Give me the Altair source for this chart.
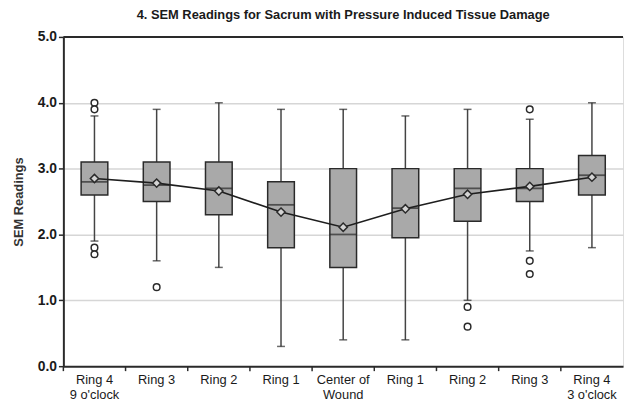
import altair as alt
import pandas as pd

labels = ["Ring 4/9 o'clock", "Ring 3", "Ring 2", "Ring 1", "Center of/Wound",
          "Ring 1", "Ring 2", "Ring 3", "Ring 4/3 o'clock"]
q1 = [2.6, 2.5, 2.3, 1.8, 1.5, 1.95, 2.2, 2.5, 2.6]
q3 = [3.1, 3.1, 3.1, 2.8, 3.0, 3.0, 3.0, 3.0, 3.2]
median = [2.8, 2.75, 2.7, 2.45, 2.0, 2.4, 2.7, 2.7, 2.9]
mean = [2.85, 2.78, 2.66, 2.34, 2.11, 2.39, 2.61, 2.73, 2.87]
whisker_low = [1.9, 1.6, 1.5, 0.3, 0.4, 0.4, 1.0, 1.75, 1.8]
whisker_high = [3.8, 3.9, 4.0, 3.9, 3.9, 3.8, 3.9, 3.75, 4.0]
outlier_pos = [0, 0, 0, 0, 1, 6, 6, 7, 7, 7]
outlier_val = [4.0, 3.9, 1.8, 1.7, 1.2, 0.9, 0.6, 3.9, 1.6, 1.4]

pos = list(range(len(labels)))
df = pd.DataFrame({"pos": pos, "q1": q1, "q3": q3, "median": median, "mean": mean,
                   "lo": whisker_low, "hi": whisker_high})
out = pd.DataFrame({"pos": outlier_pos, "val": outlier_val})

W, H = 566, 333
DARK = "#2a2a2a"

joined = "|".join(labels)
label_expr = 'split(split("' + joined + '", "|")[datum.value], "/")'

x = alt.X("pos:O", title=None,
          scale=alt.Scale(paddingInner=0, paddingOuter=0),
          axis=alt.Axis(labelAngle=0, ticks=False, labelExpr=label_expr,
                        labelFont="Liberation Sans", labelFontSize=13, labelColor="#1a1a1a",
                        labelLineHeight=15, labelPadding=8, domainColor=DARK, domainWidth=2,
                        grid=False))

yscale = alt.Scale(domain=[0, 5], nice=False)
y_axis = alt.Axis(values=[i * 0.5 for i in range(11)],
                  labelExpr="datum.value % 1 == 0 ? format(datum.value, '.1f') : ''",
                  labelFont="Liberation Sans", labelFontSize=14, labelFontWeight="bold",
                  labelColor="#1a1a1a", tickSize=5, tickColor=DARK, tickWidth=1.5,
                  domainColor=DARK, domainWidth=2,
                  grid=True, gridColor="#d6d6d6", gridWidth=1.5,
                  gridOpacity={"condition": {"test": "datum.value % 1 == 0 && datum.value > 0 && datum.value < 5", "value": 1}, "value": 0},
                  title="SEM Readings", titleFont="Liberation Sans", titleFontSize=13,
                  titleFontWeight="bold", titleColor="#333333", titlePadding=12)

base = alt.Chart(df)

xticks = base.mark_rule(color=DARK, strokeWidth=1.5).encode(
    x=alt.X("pos:O", bandPosition=0), y=alt.value(H), y2=alt.value(H + 5))
whisk_lo = base.mark_rule(color="#444444", strokeWidth=1.5).encode(
    x=x, y=alt.Y("lo:Q", scale=yscale, axis=y_axis), y2="q1:Q")
whisk_hi = base.mark_rule(color="#444444", strokeWidth=1.5).encode(
    x=x, y=alt.Y("q3:Q"), y2="hi:Q")
cap_lo = base.mark_tick(color=DARK, thickness=1.5, size=8).encode(x=x, y="lo:Q")
cap_hi = base.mark_tick(color=DARK, thickness=1.5, size=8).encode(x=x, y="hi:Q")
box = base.mark_bar(size=27, color="#a9a9a9", stroke=DARK, strokeWidth=1.5).encode(
    x=x, y="q1:Q", y2="q3:Q")
med = base.mark_tick(color=DARK, thickness=1.8, size=27).encode(x=x, y="median:Q")
mean_line = base.mark_line(color="#1e1e1e", strokeWidth=1.6).encode(x=x, y="mean:Q")
mean_pts = base.mark_point(shape="diamond", size=70, filled=True, fill="#d4d4d4",
                           stroke=DARK, strokeWidth=1.5, opacity=1).encode(x=x, y="mean:Q")
outs = alt.Chart(out).mark_point(shape="circle", size=45, fill="white", filled=True,
                                 stroke=DARK, strokeWidth=1.5, opacity=1).encode(
    x=x, y="val:Q")
top = alt.Chart(pd.DataFrame({"v": [5]})).mark_rule(color=DARK, strokeWidth=2).encode(y="v:Q")

chart = alt.layer(top, whisk_lo, whisk_hi, cap_lo, cap_hi, box, med, mean_line, mean_pts, outs, xticks).properties(
    width=W, height=H,
    title=alt.TitleParams("4. SEM Readings for Sacrum with Pressure Induced Tissue Damage",
                          font="Liberation Sans", fontSize=13, fontWeight="bold",
                          color="#1a1a1a", anchor="middle", offset=8),
    autosize=alt.AutoSizeParams(type="none"),
    padding={"left": 56, "top": 27, "right": 2, "bottom": 36},
).configure_view(stroke=None).configure(background="white")

chart.save("out.html", embed_options={"renderer": "svg", "actions": False})
